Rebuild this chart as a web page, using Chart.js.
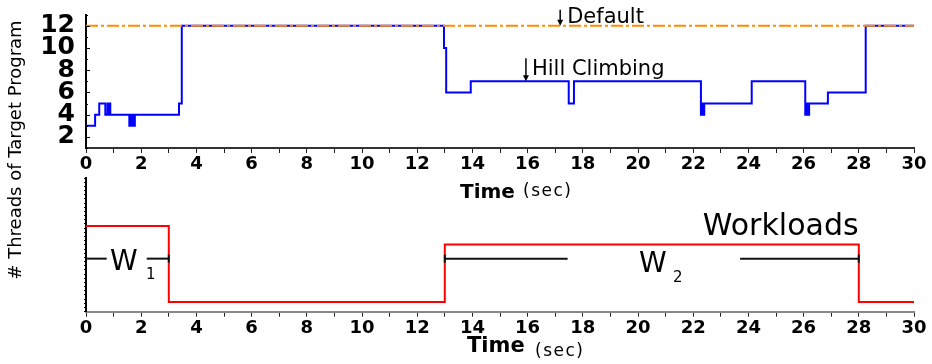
<!DOCTYPE html>
<html><head><meta charset="utf-8">
<script src="https://cdn.jsdelivr.net/npm/chart.js@4.4.0/dist/chart.umd.min.js"></script>
<style>
html,body{margin:0;padding:0;background:#fff;width:932px;height:364px;overflow:hidden}
.c{position:absolute;left:0;top:0;width:932px;height:364px}
</style></head><body>
<div class="c"><canvas id="topChart" width="932" height="364"></canvas></div>
<div class="c"><canvas id="bottomChart" width="932" height="364"></canvas></div>
<script>
// ---------- data ----------
const timeTickLabels = [0, 2, 4, 6, 8, 10, 12, 14, 16, 18, 20, 22, 24, 26, 28, 30];
const threadTickLabels = [2, 4, 6, 8, 10, 12];

const defaultTimes   = [0, 30];
const defaultThreads = [12, 12];

const hillTimes = [0, 0.33, 0.48, 0.70, 0.78, 0.80, 0.82, 0.84, 0.86, 0.88,
  1.57, 1.61, 1.65, 1.69, 1.73, 1.77, 1.81, 3.37, 3.47,
  12.97, 13.05, 13.94, 17.49, 17.68,
  22.28, 22.32, 22.36, 22.40, 24.12,
  26.06, 26.10, 26.14, 26.20, 26.88, 28.25, 30];
const hillThreads = [3, 4, 5, 4, 5, 4, 5, 4, 5, 4,
  3, 4, 3, 4, 3, 4, 4, 5, 12,
  10, 6, 7, 5, 7,
  4, 5, 4, 5, 7,
  4, 5, 4, 5, 6, 12, 12];

const workloadTimes  = [0, 3, 13, 28, 30];
const workloadLevels = [20.5, 2.3, 16.1, 2.3, 2.3];

// annotation anchors (data coordinates)
const defaultLabelAt = [17.18, 12];
const hillLabelAt    = [15.94, 7];
const workloadsLabelAt = [22.35, 18.3];
const w1Span = [0, 3];
const w1Gap  = [0.75, 2.2];
const w2Span = [13, 28];
const w2Gap  = [17.45, 23.7];
const spanLevel = 12.7;
const w1LabelAt = [0.87, 10.0];
const w2LabelAt = [20.04, 9.5];

const toPts = (xs, ys) => xs.map((x, i) => ({x: x, y: ys[i]}));

function arrowDown(ctx, x, y0, y1) {
  ctx.save();
  ctx.strokeStyle = '#000'; ctx.fillStyle = '#000'; ctx.lineWidth = 1.5;
  ctx.beginPath(); ctx.moveTo(x, y0); ctx.lineTo(x, y1 - 4); ctx.stroke();
  ctx.beginPath(); ctx.moveTo(x - 3, y1 - 6); ctx.lineTo(x + 3, y1 - 6); ctx.lineTo(x, y1); ctx.closePath(); ctx.fill();
  ctx.restore();
}

function spaced(ctx, px) { if ('letterSpacing' in ctx) ctx.letterSpacing = px; }

const topPlugin = {
  id: 'topAnno',
  afterDraw(chart) {
    const ctx = chart.ctx, xs = chart.scales.x, ys = chart.scales.y;
    ctx.save();
    // inward y ticks
    ctx.strokeStyle = '#000'; ctx.lineWidth = 1;
    for (let v = 1; v <= 13; v++) {
      const py = Math.round(ys.getPixelForValue(v)) + 0.5;
      const len = (v % 2 === 0) ? 4 : 2;
      ctx.beginPath(); ctx.moveTo(xs.left, py); ctx.lineTo(xs.left + len, py); ctx.stroke();
    }
    // Default
    let px = xs.getPixelForValue(defaultLabelAt[0]), py = ys.getPixelForValue(defaultLabelAt[1]);
    arrowDown(ctx, px, py - 16, py);
    ctx.fillStyle = '#000';
    ctx.font = '21px "DejaVu Sans"'; ctx.textBaseline = 'alphabetic'; ctx.textAlign = 'left';
    ctx.fillText('Default', px + 7, py - 3);
    // Hill Climbing
    px = xs.getPixelForValue(hillLabelAt[0]); py = ys.getPixelForValue(hillLabelAt[1]);
    arrowDown(ctx, px, py - 23, py);
    ctx.fillText('Hill Climbing', px + 6, py - 6);
    // x title
    const cx = (xs.left + xs.right) / 2;
    ctx.font = 'bold 20px "DejaVu Sans"';
    ctx.fillText('Time', cx - 40, 198);
    ctx.font = '17px "DejaVu Sans"'; spaced(ctx, '1.5px');
    ctx.fillText('(sec)', cx + 23, 196);
    spaced(ctx, '0px');
    // y title spanning both panels
    ctx.translate(16, 150); ctx.rotate(-Math.PI / 2);
    ctx.font = '18px "DejaVu Sans"'; ctx.textAlign = 'center'; ctx.textBaseline = 'middle';
    ctx.fillText('# Threads of Target Program', 0, 0);
    ctx.restore();
  }
};

const bottomPlugin = {
  id: 'bottomAnno',
  afterDraw(chart) {
    const ctx = chart.ctx, xs = chart.scales.x, ys = chart.scales.y;
    ctx.save();
    ctx.fillStyle = '#000'; ctx.strokeStyle = '#111'; ctx.lineWidth = 2;
    const ly = ys.getPixelForValue(spanLevel);
    const seg = (a, b) => { ctx.beginPath(); ctx.moveTo(xs.getPixelForValue(a), ly); ctx.lineTo(xs.getPixelForValue(b), ly); ctx.stroke(); };
    const bar = (a) => { const p = xs.getPixelForValue(a); ctx.beginPath(); ctx.moveTo(p, ly - 4); ctx.lineTo(p, ly + 4); ctx.stroke(); };
    seg(w1Span[0], w1Gap[0]); seg(w1Gap[1], w1Span[1]); bar(w1Span[1]);
    seg(w2Span[0], w2Gap[0]); seg(w2Gap[1], w2Span[1]); bar(w2Span[0]); bar(w2Span[1]);
    ctx.textAlign = 'left'; ctx.textBaseline = 'alphabetic';
    // W1
    let px = xs.getPixelForValue(w1LabelAt[0]), py = ys.getPixelForValue(w1LabelAt[1]);
    ctx.font = '28px "DejaVu Sans"'; ctx.fillText('W', px, py);
    ctx.font = '15px "DejaVu Sans"'; ctx.fillText('1', px + 36, py + 9);
    // W2
    px = xs.getPixelForValue(w2LabelAt[0]); py = ys.getPixelForValue(w2LabelAt[1]);
    ctx.font = '28px "DejaVu Sans"'; ctx.fillText('W', px, py);
    ctx.font = '15px "DejaVu Sans"'; ctx.fillText('2', px + 34, py + 10);
    // Workloads
    px = xs.getPixelForValue(workloadsLabelAt[0]); py = ys.getPixelForValue(workloadsLabelAt[1]);
    ctx.font = '30px "DejaVu Sans"'; ctx.fillText('Workloads', px, py);
    // x title
    const cx = (xs.left + xs.right) / 2;
    ctx.font = 'bold 21px "DejaVu Sans"';
    ctx.fillText('Time', cx - 33, 352);
    ctx.font = '17px "DejaVu Sans"'; spaced(ctx, '1.5px');
    ctx.fillText('(sec)', cx + 35, 356);
    spaced(ctx, '0px');
    ctx.restore();
  }
};

const tickFontX = {family: '"DejaVu Sans"', weight: 'bold', size: 18};

function xScale(height, borderColor) {
  return {
    type: 'linear', min: 0, max: 30,
    afterBuildTicks(s) { const t = []; for (let v = 0; v <= 30; v++) t.push({value: v}); s.ticks = t; },
    afterFit(s) { s.height = height; s.paddingLeft = 0; s.paddingRight = 0; },
    ticks: {autoSkip: false, maxRotation: 0, minRotation: 0, padding: 1, color: '#000', font: tickFontX,
      callback: v => timeTickLabels.includes(v) ? String(v) : ''},
    grid: {display: true, drawOnChartArea: false, drawTicks: true, tickLength: 5, color: '#222', lineWidth: 1},
    border: {display: true, color: borderColor, width: 2}
  };
}

Chart.defaults.font.family = '"DejaVu Sans"';

new Chart(document.getElementById('topChart'), {
  type: 'line',
  data: {datasets: [
    {label: 'Default', data: toPts(defaultTimes, defaultThreads), borderColor: '#ff8c00', borderWidth: 2,
     borderDash: [12, 3, 3, 3], pointRadius: 0, fill: false, tension: 0},
    {label: 'Hill Climbing', data: toPts(hillTimes, hillThreads), stepped: true, borderColor: '#0000ff',
     borderWidth: 2, pointRadius: 0, fill: false}
  ]},
  options: {
    responsive: false, animation: false, devicePixelRatio: 1,
    layout: {padding: {left: 0, right: 18, top: 14.6, bottom: 0}},
    plugins: {legend: {display: false}, tooltip: {enabled: false}},
    scales: {
      x: xScale(216, '#333'),
      y: {
        type: 'linear', min: 1, max: 13,
        afterBuildTicks(s) { const t = []; for (let v = 1; v <= 13; v++) t.push({value: v}); s.ticks = t; },
        afterFit(s) { s.width = 86; s.paddingTop = 0; s.paddingBottom = 0; },
        ticks: {autoSkip: false, padding: 11, color: '#000', font: {family: '"DejaVu Sans"', weight: 'bold', size: 25},
          callback: v => threadTickLabels.includes(v) ? String(v) : ''},
        grid: {display: true, drawOnChartArea: false, drawTicks: false},
        border: {display: true, color: '#000', width: 2}
      }
    }
  },
  plugins: [topPlugin]
});

new Chart(document.getElementById('bottomChart'), {
  type: 'line',
  data: {datasets: [
    {label: 'Workloads', data: toPts(workloadTimes, workloadLevels), stepped: true, borderColor: '#ff0000',
     borderWidth: 2, pointRadius: 0, fill: false}
  ]},
  options: {
    responsive: false, animation: false, devicePixelRatio: 1,
    layout: {padding: {left: 0, right: 18, top: 178, bottom: 0}},
    plugins: {legend: {display: false}, tooltip: {enabled: false}},
    scales: {
      x: xScale(52.3, '#888'),
      y: {
        type: 'linear', min: 0, max: 32,
        afterBuildTicks(s) { const t = []; for (let v = 0; v <= 32; v++) t.push({value: v}); s.ticks = t; },
        afterFit(s) { s.width = 86; s.paddingTop = 0; s.paddingBottom = 0; },
        ticks: {display: false, autoSkip: false},
        grid: {display: true, drawOnChartArea: false, drawTicks: true, tickLength: 2, color: '#000'},
        border: {display: true, color: '#000', width: 2}
      }
    }
  },
  plugins: [bottomPlugin]
});
</script>
</body></html>
